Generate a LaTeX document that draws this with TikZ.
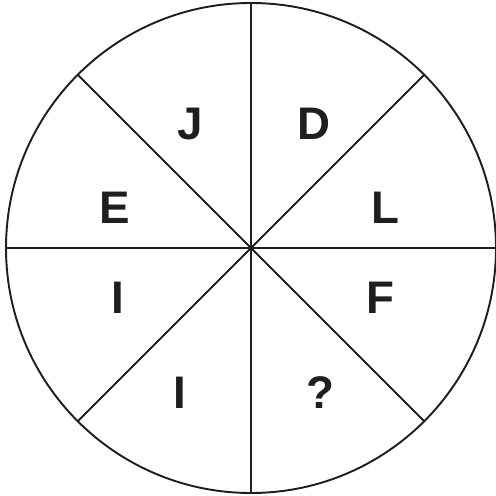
\documentclass[tikz,border=0pt]{standalone}
\usepackage{fontspec}
\setmainfont{Liberation Sans}

\begin{document}
\begin{tikzpicture}[line width=1.1pt, draw={black!88},
    letter/.style={font=\fontsize{26}{26}\selectfont\bfseries, text={black!88}, inner sep=0pt}]
        \useasboundingbox (0, 0) rectangle (9.92, 9.92);

        % 円と8つの扇形
        \coordinate (o) at (5.02, 4.96);
        \draw (o) circle (4.9);
        \foreach \a in {0, 45, ..., 315}
          \draw (o) -- ++(\a:4.9);

        % 各扇形の文字
        \node[letter] (j) at (3.80, 7.44) {J};
        \node[letter] (d) at (6.28, 7.44) {D};
        \node[letter] (e) at (2.30, 5.76) {E};
        \node[letter] (l) at (7.70, 5.76) {L};
        \node[letter] (i1) at (2.36, 3.96) {I};
        \node[letter] (f) at (7.60, 3.96) {F};
        \node[letter] (i2) at (3.60, 2.06) {I};
        \node[letter] (q) at (6.40, 2.06) {?};
      \end{tikzpicture}
\end{document}
